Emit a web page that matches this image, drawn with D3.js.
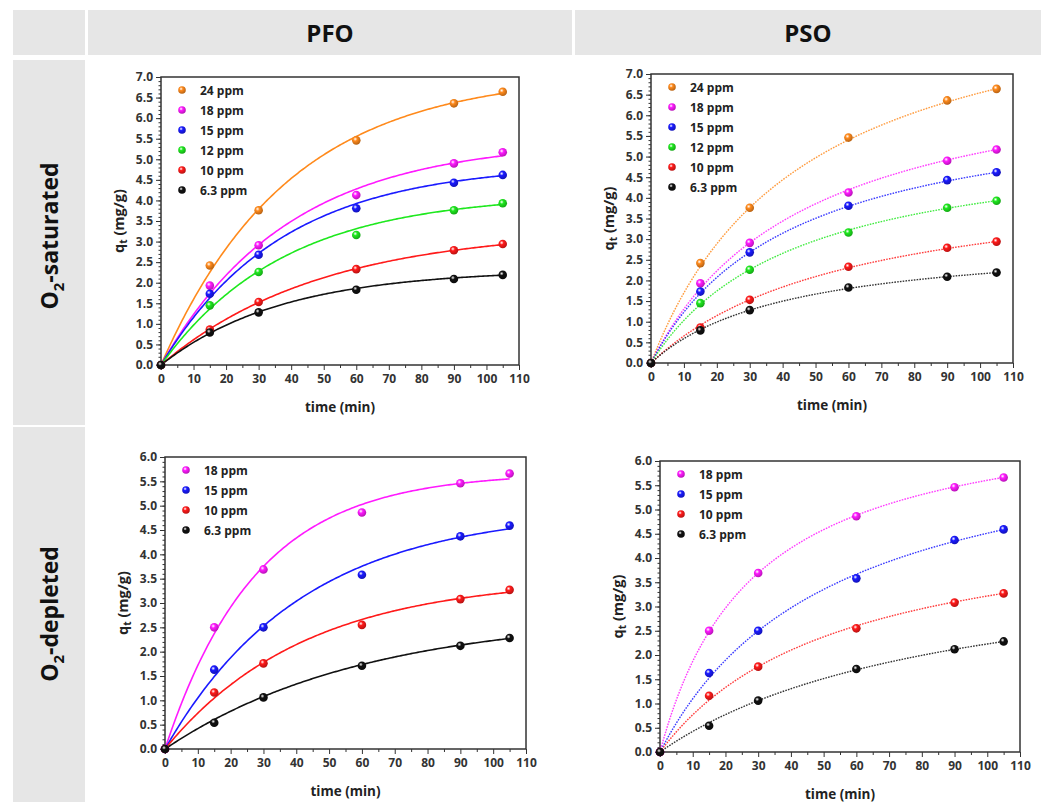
<!DOCTYPE html>
<html>
<head>
<meta charset="utf-8">
<script src="https://cdn.jsdelivr.net/npm/d3@7"></script>
<style>
  body { margin: 0; background: #fff; }
  text { font-family: "Open Sans", "DejaVu Sans", sans-serif; }
</style>
</head>
<body>
<div id="chart"></div>
<script>
// Data
const times = [0, 15, 30, 60, 90, 105];

const satLabels = ['24 ppm', '18 ppm', '15 ppm', '12 ppm', '10 ppm', '6.3 ppm'];
const satValues = [
  [0, 2.42, 3.76, 5.46, 6.36, 6.64],
  [0, 1.93, 2.91, 4.13, 4.90, 5.17],
  [0, 1.73, 2.68, 3.81, 4.43, 4.62],
  [0, 1.45, 2.26, 3.16, 3.76, 3.93],
  [0, 0.86, 1.53, 2.33, 2.79, 2.94],
  [0, 0.79, 1.28, 1.83, 2.09, 2.19]
];
// fitted parameters (PFO: qe, k1 ; PSO: qe, k2)
const satPfoQe = [7.09, 5.46, 4.89, 4.16, 3.31, 2.32];
const satPfoK1 = [0.0255, 0.0255, 0.027, 0.0265, 0.0205, 0.027];
const satPsoQe = [9.58, 7.50, 6.50, 5.58, 4.66, 3.06];
const satPsoK2 = [0.00225, 0.00282, 0.00360, 0.00407, 0.00350, 0.00783];

const depLabels = ['18 ppm', '15 ppm', '10 ppm', '6.3 ppm'];
const depValues = [
  [0, 2.50, 3.69, 4.86, 5.46, 5.66],
  [0, 1.63, 2.50, 3.58, 4.37, 4.59],
  [0, 1.16, 1.76, 2.55, 3.08, 3.27],
  [0, 0.54, 1.06, 1.71, 2.12, 2.28]
];
const depPfoQe = [5.68, 4.92, 3.52, 2.76];
const depPfoK1 = [0.036, 0.024, 0.0235, 0.0165];
const depPsoQe = [7.20, 6.89, 4.98, 4.22];
const depPsoK2 = [0.00487, 0.00275, 0.00366, 0.00265];

const colorOf = {
  '24 ppm': '#ff8a1c', '18 ppm': '#ff1aff', '15 ppm': '#1a1aff',
  '12 ppm': '#1ee81e', '10 ppm': '#ff1a1a', '6.3 ppm': '#111111'
};

const W = 1041, H = 802;
const svg = d3.select('#chart').append('svg')
  .attr('width', W).attr('height', H);

// Table background
const gray = '#e6e6e6';
const cells = [
  [13, 10, 72, 45], [88, 10, 484, 45], [575, 10, 466, 45],
  [13, 60, 72, 365], [13, 427, 72, 375]
];
svg.selectAll('rect.cell').data(cells).join('rect')
  .attr('class', 'cell')
  .attr('x', d => d[0]).attr('y', d => d[1])
  .attr('width', d => d[2]).attr('height', d => d[3])
  .attr('fill', gray);

svg.append('text').attr('x', 330).attr('y', 42)
  .attr('text-anchor', 'middle').attr('font-size', 24).attr('font-weight', 700)
  .attr('fill', '#111').text('PFO');
svg.append('text').attr('x', 808).attr('y', 42)
  .attr('text-anchor', 'middle').attr('font-size', 24).attr('font-weight', 700)
  .attr('fill', '#111').text('PSO');

function rowLabel(cy, rest) {
  const t = svg.append('text')
    .attr('transform', `translate(58,${cy}) rotate(-90)`)
    .attr('text-anchor', 'middle').attr('font-size', 23).attr('font-weight', 700)
    .attr('fill', '#111');
  t.append('tspan').text('O');
  t.append('tspan').attr('font-size', 15).attr('dy', 6).text('2');
  t.append('tspan').attr('dy', -6).text(rest);
}
rowLabel(236, '-saturated');
rowLabel(614, '-depleted');

// gradient per colour for sphere markers
const defs = svg.append('defs');
Object.entries(colorOf).forEach(([k, c], i) => {
  const g = defs.append('radialGradient').attr('id', 'ball' + i)
    .attr('cx', '38%').attr('cy', '35%').attr('r', '65%');
  g.append('stop').attr('offset', '0%').attr('stop-color', '#fff').attr('stop-opacity', 0.9);
  g.append('stop').attr('offset', '35%').attr('stop-color', c);
  g.append('stop').attr('offset', '100%').attr('stop-color', d3.color(c).darker(0.9));
});
const ballId = lbl => 'url(#ball' + Object.keys(colorOf).indexOf(lbl) + ')';

const pfo = (qe, k) => t => qe * (1 - Math.exp(-k * t));
const pso = (qe, k) => t => qe * qe * k * t / (1 + qe * k * t);

const panels = [
  { left: 161, top: 77, right: 519, bottom: 365, ymax: 7, labels: satLabels, values: satValues,
    fit: satLabels.map((_, i) => pfo(satPfoQe[i], satPfoK1[i])), dotted: false },
  { left: 651, top: 74, right: 1013, bottom: 363, ymax: 7, labels: satLabels, values: satValues,
    fit: satLabels.map((_, i) => pso(satPsoQe[i], satPsoK2[i])), dotted: true },
  { left: 165, top: 457, right: 526, bottom: 749, ymax: 6, labels: depLabels, values: depValues,
    fit: depLabels.map((_, i) => pfo(depPfoQe[i], depPfoK1[i])), dotted: false },
  { left: 660, top: 461, right: 1020, bottom: 752, ymax: 6, labels: depLabels, values: depValues,
    fit: depLabels.map((_, i) => pso(depPsoQe[i], depPsoK2[i])), dotted: true }
];

const axisColor = '#333';

panels.forEach(p => {
  const x = d3.scaleLinear().domain([0, 110]).range([p.left, p.right]);
  const y = d3.scaleLinear().domain([0, p.ymax]).range([p.bottom, p.top]);
  const g = svg.append('g');

  // minor ticks
  g.append('g').attr('transform', `translate(0,${p.bottom})`)
    .call(d3.axisBottom(x).tickValues(d3.range(5, 110, 10)).tickSize(3).tickFormat(''))
    .call(a => a.select('.domain').remove());
  g.append('g').attr('transform', `translate(${p.left},0)`)
    .call(d3.axisLeft(y).tickValues(d3.range(0, p.ymax + 0.001, 0.1)).tickSize(2.5).tickFormat(''))
    .call(a => a.select('.domain').remove());

  // major ticks
  g.append('g').attr('transform', `translate(0,${p.bottom})`)
    .call(d3.axisBottom(x).tickValues(d3.range(0, 111, 10)).tickSize(5).tickPadding(4).tickFormat(d3.format('d')))
    .call(a => a.select('.domain').remove());
  g.append('g').attr('transform', `translate(${p.left},0)`)
    .call(d3.axisLeft(y).tickValues(d3.range(0, p.ymax + 0.001, 0.5)).tickSize(5).tickPadding(3).tickFormat(d3.format('.1f')))
    .call(a => a.select('.domain').remove());

  g.selectAll('.tick line').attr('stroke', axisColor).attr('stroke-width', 1);
  g.selectAll('.tick text').attr('fill', '#333').attr('font-size', 12).attr('font-weight', 700)
    .style('font-family', '"Open Sans", sans-serif');

  // frame
  g.append('rect').attr('x', p.left).attr('y', p.top)
    .attr('width', p.right - p.left).attr('height', p.bottom - p.top)
    .attr('fill', 'none').attr('stroke', axisColor).attr('stroke-width', 1.5);

  // fit curves
  const tt = d3.range(0, 105.01, 0.5);
  p.labels.forEach((lbl, i) => {
    g.append('path').datum(tt)
      .attr('d', d3.line().x(t => x(t)).y(t => y(p.fit[i](t))))
      .attr('fill', 'none')
      .attr('stroke', colorOf[lbl])
      .attr('stroke-width', p.dotted ? 1.4 : 1.6)
      .attr('stroke-dasharray', p.dotted ? '1.6,1.2' : null)
      .attr('stroke-opacity', p.dotted ? 0.85 : 1);
  });

  // data points
  p.labels.forEach((lbl, i) => {
    g.selectAll(null).data(times.map((t, j) => [t, p.values[i][j]])).join('circle')
      .attr('cx', d => x(d[0])).attr('cy', d => y(d[1])).attr('r', 4.3)
      .attr('fill', ballId(lbl));
  });

  // legend
  const lg = g.append('g').attr('transform', `translate(${p.left + 21},${p.top + 13})`);
  p.labels.forEach((lbl, i) => {
    lg.append('circle').attr('cx', 0).attr('cy', i * 20).attr('r', 3.8).attr('fill', ballId(lbl));
    lg.append('text').attr('x', 18).attr('y', i * 20 + 4.5)
      .attr('font-size', 12).attr('font-weight', 700).attr('fill', '#222').text(lbl);
  });

  // axis titles
  g.append('text').attr('x', (p.left + p.right) / 2).attr('y', p.bottom + 47)
    .attr('text-anchor', 'middle').attr('font-size', 13.5).attr('font-weight', 700)
    .attr('fill', '#222').text('time (min)');
  const yt = g.append('text')
    .attr('transform', `translate(${p.left - 37},${(p.top + p.bottom) / 2}) rotate(-90)`)
    .attr('text-anchor', 'middle').attr('font-size', 14.5).attr('font-weight', 700).attr('fill', '#222');
  yt.append('tspan').text('q');
  yt.append('tspan').attr('font-size', 10).attr('dy', 3).text('t');
  yt.append('tspan').attr('dy', -3).text(' (mg/g)');
});
</script>
</body>
</html>
